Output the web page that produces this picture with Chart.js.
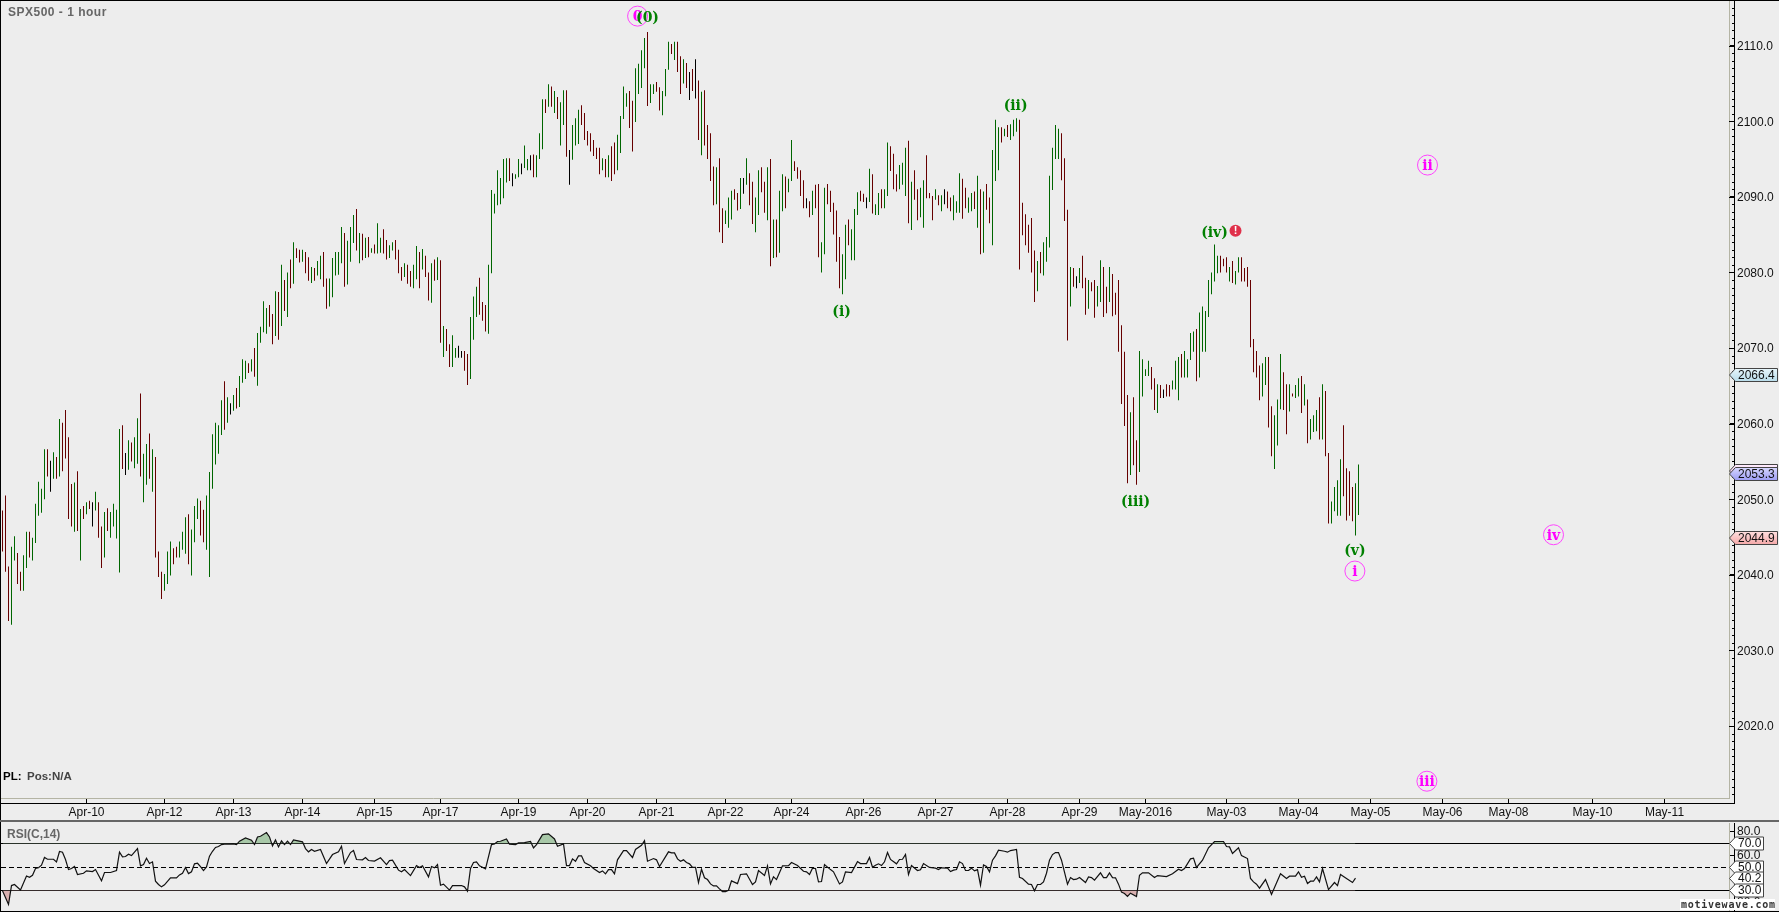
<!DOCTYPE html>
<html>
<head>
<meta charset="utf-8">
<title>SPX500 - 1 hour</title>
<script src="https://cdn.jsdelivr.net/npm/chart.js@4"></script>
<style>
  html, body { margin: 0; padding: 0; background: #ededed; overflow: hidden; }
  canvas { position: absolute; left: 0; display: block; }
  #priceChart { top: 0; }
  #rsiChart { top: 823px; }
</style>
</head>
<body>
<canvas id="priceChart" width="1779" height="823"></canvas>
<canvas id="rsiChart" width="1779" height="89"></canvas>
<script>
// hourly bars
const barHighs = [
  2048.5,2050.5,2041.1,2043.7,2045.1,2042.9,2040.4,2042.6,2045.7,2045.7,
  2044.9,2049.4,2052.3,2051.4,2056.6,2056.6,2055.1,2056.2,2055.6,2060.6,
  2060.1,2061.8,2058.2,2052.0,2052.2,2053.7,2048.7,2049.1,2049.6,2049.8,
  2049.6,2051.0,2049.6,2046.4,2048.3,2048.8,2048.3,2049.4,2048.6,2059.3,
  2059.8,2056.1,2057.8,2057.5,2058.2,2060.7,2064.0,2056.0,2057.3,2058.7,
  2056.6,2055.6,2043.1,2040.4,2040.1,2043.1,2044.4,2043.5,2043.7,2044.4,
  2045.7,2047.6,2048.0,2046.0,2049.1,2050.1,2049.8,2048.6,2050.5,2053.6,
  2058.6,2060.1,2059.8,2063.1,2065.6,2063.5,2062.7,2063.8,2064.7,2066.3,
  2068.5,2068.3,2068.0,2068.5,2070.0,2072.0,2072.8,2076.2,2075.3,2075.7,
  2074.5,2077.5,2077.4,2081.0,2079.0,2080.0,2081.7,2084.0,2083.2,2083.0,
  2083.0,2082.7,2082.0,2080.7,2080.6,2081.5,2082.2,2082.7,2079.2,2079.2,
  2081.9,2082.7,2082.7,2086.0,2085.2,2084.2,2086.0,2087.6,2088.4,2085.2,
  2085.1,2084.6,2084.7,2083.2,2083.7,2086.5,2084.6,2085.7,2084.3,2083.6,
  2084.0,2084.3,2083.0,2080.7,2081.2,2081.0,2080.2,2081.0,2083.5,2082.7,
  2083.1,2082.2,2080.0,2081.2,2081.7,2082.0,2081.6,2072.9,2072.5,2070.5,
  2071.7,2070.0,2070.3,2069.6,2069.6,2069.2,2074.1,2076.8,2078.1,2079.3,
  2076.1,2075.7,2081.0,2090.9,2090.4,2093.5,2092.5,2095.0,2095.1,2095.1,
  2093.1,2093.0,2095.0,2094.4,2096.8,2095.0,2095.5,2095.6,2095.5,2098.4,
  2102.9,2102.9,2104.9,2104.6,2104.0,2103.2,2102.5,2104.1,2104.1,2096.2,
  2099.5,2100.4,2101.5,2102.1,2101.1,2098.7,2098.4,2097.5,2096.5,2096.5,
  2095.1,2095.0,2095.5,2096.7,2097.2,2098.2,2100.7,2104.6,2103.7,2104.0,
  2102.7,2107.0,2107.6,2109.4,2111.0,2111.8,2104.9,2104.9,2105.2,2104.5,
  2104.0,2106.9,2110.5,2110.2,2110.5,2110.5,2108.6,2108.2,2107.7,2106.5,
  2106.9,2108.2,2105.4,2103.9,2104.1,2099.5,2098.4,2094.0,2093.9,2095.1,
  2088.5,2088.2,2089.9,2090.8,2091.0,2090.5,2092.5,2092.5,2095.1,2093.1,
  2092.0,2089.9,2093.5,2093.9,2092.0,2093.9,2095.0,2087.0,2087.0,2090.8,
  2093.0,2092.7,2092.4,2097.5,2094.7,2093.9,2093.5,2092.2,2089.8,2089.4,
  2090.8,2091.6,2091.7,2084.0,2091.2,2091.7,2090.8,2089.2,2088.2,2084.7,
  2082.4,2086.3,2087.0,2085.7,2088.4,2090.6,2090.8,2090.4,2089.9,2093.7,
  2093.0,2089.0,2090.5,2091.0,2091.0,2097.2,2096.7,2095.7,2093.0,2094.2,
  2094.5,2096.5,2097.4,2092.0,2093.5,2091.0,2091.2,2092.2,2095.5,2090.5,
  2090.1,2091.0,2090.2,2090.2,2091.0,2090.7,2089.9,2090.2,2089.4,2093.1,
  2092.4,2091.2,2089.9,2090.5,2090.7,2092.8,2091.0,2090.7,2091.7,2089.9,
  2096.2,2100.2,2099.2,2099.2,2099.0,2099.5,2099.6,2100.2,2100.4,2100.2,
  2089.2,2087.7,2086.3,2087.2,2082.9,2081.5,2082.7,2084.0,2084.7,2092.8,
  2096.5,2099.5,2099.0,2098.4,2095.1,2088.3,2080.7,2080.6,2079.5,2080.6,
  2082.2,2079.3,2079.0,2078.7,2079.0,2078.2,2081.6,2080.7,2078.1,2080.7,
  2079.8,2077.3,2079.0,2073.0,2069.5,2063.8,2061.5,2063.5,2057.8,2069.6,
  2068.5,2067.2,2068.3,2067.5,2066.0,2065.2,2065.1,2064.5,2065.2,2065.1,
  2065.7,2068.3,2068.8,2069.2,2069.6,2068.5,2072.0,2072.2,2072.5,2074.7,
  2075.5,2074.9,2079.0,2080.0,2083.7,2082.2,2082.2,2081.8,2082.0,2080.7,
  2081.5,2080.2,2082.0,2082.0,2080.6,2080.7,2079.0,2071.2,2069.6,2067.7,
  2068.0,2068.8,2068.8,2062.3,2061.1,2063.2,2069.2,2066.8,2065.2,2065.2,
  2064.0,2065.1,2066.0,2066.3,2065.2,2063.2,2060.6,2061.1,2061.8,2063.5,
  2065.2,2064.3,2056.1,2049.7,2051.6,2052.5,2055.3,2059.8,2054.1,2053.7,
  2051.6,2052.1,2054.6
];
const barLows = [
  2043.1,2040.4,2033.9,2033.4,2041.9,2038.8,2037.9,2037.9,2040.9,2042.3,
  2041.9,2044.2,2047.8,2048.2,2050.0,2053.0,2051.0,2052.7,2052.7,2053.0,
  2053.7,2055.4,2047.4,2046.4,2045.7,2045.8,2041.9,2047.4,2048.0,2048.7,
  2046.4,2048.5,2044.9,2040.9,2042.3,2045.8,2044.9,2046.4,2044.8,2040.3,
  2054.0,2053.2,2053.9,2055.0,2054.1,2054.7,2053.0,2049.6,2051.9,2052.7,
  2051.0,2042.3,2039.7,2036.8,2037.9,2038.8,2039.9,2041.4,2042.3,2042.3,
  2043.3,2042.8,2041.4,2039.9,2044.3,2047.4,2045.2,2044.3,2043.3,2039.7,
  2051.4,2054.6,2056.0,2058.5,2059.2,2060.1,2061.2,2061.7,2062.0,2062.2,
  2065.4,2065.9,2066.7,2066.9,2066.2,2065.0,2070.7,2072.1,2071.9,2072.8,
  2070.5,2071.6,2071.1,2072.9,2074.9,2074.1,2077.9,2078.5,2081.9,2081.3,
  2081.4,2079.9,2078.9,2078.6,2078.9,2079.6,2079.1,2078.1,2075.2,2075.5,
  2076.7,2079.6,2079.7,2081.2,2078.1,2078.4,2081.4,2083.9,2082.9,2081.2,
  2081.6,2081.9,2082.0,2082.6,2082.5,2082.5,2082.6,2082.5,2081.7,2081.9,
  2082.9,2081.7,2079.9,2078.9,2079.4,2078.5,2078.1,2077.9,2079.1,2077.9,
  2080.4,2079.4,2076.3,2076.0,2078.9,2079.0,2070.7,2068.8,2069.6,2067.5,
  2067.5,2068.7,2068.7,2068.7,2067.0,2065.1,2065.9,2071.1,2074.1,2074.4,
  2073.6,2072.2,2071.9,2079.9,2087.8,2088.9,2089.0,2089.8,2091.9,2092.1,
  2091.4,2092.4,2092.6,2093.0,2093.8,2093.5,2093.5,2092.6,2092.6,2095.0,
  2096.3,2101.1,2101.9,2101.9,2101.1,2100.3,2096.8,2099.5,2095.3,2091.6,
  2094.9,2096.8,2097.0,2099.5,2097.5,2096.8,2096.0,2095.4,2095.0,2093.0,
  2093.5,2092.6,2092.6,2092.1,2093.0,2093.5,2095.8,2100.3,2101.9,2099.1,
  2096.0,2099.9,2103.6,2104.4,2107.0,2102.0,2102.4,2103.6,2103.9,2101.4,
  2100.8,2103.3,2106.8,2108.9,2108.1,2106.5,2103.6,2105.0,2104.4,2102.8,
  2104.0,2103.0,2097.5,2095.5,2096.8,2095.0,2092.1,2088.9,2089.0,2085.3,
  2083.9,2086.4,2085.9,2087.0,2089.6,2088.2,2088.4,2090.4,2091.6,2088.9,
  2086.4,2085.3,2087.6,2090.6,2087.9,2086.9,2080.8,2081.9,2082.0,2082.6,
  2088.1,2088.5,2090.6,2092.1,2093.4,2092.4,2090.1,2088.5,2088.5,2087.3,
  2087.6,2088.5,2082.0,2080.0,2082.4,2089.0,2088.0,2085.0,2081.4,2077.9,
  2077.1,2079.1,2083.6,2081.6,2081.6,2087.6,2089.4,2089.3,2088.5,2089.3,
  2087.8,2087.6,2087.6,2088.5,2088.5,2090.1,2093.4,2091.0,2090.7,2091.0,
  2091.6,2090.1,2086.5,2085.6,2089.6,2086.9,2087.3,2085.9,2089.8,2089.8,
  2086.9,2089.6,2088.9,2088.1,2089.0,2088.5,2088.1,2086.9,2087.9,2087.9,
  2087.1,2088.5,2087.9,2088.1,2088.4,2085.9,2082.4,2082.6,2088.3,2086.5,
  2083.6,2092.1,2093.5,2097.2,2098.0,2097.9,2097.5,2098.0,2098.6,2080.4,
  2084.9,2083.6,2082.6,2080.0,2076.1,2077.5,2079.9,2079.6,2081.4,2083.3,
  2090.9,2095.0,2095.0,2092.2,2086.8,2071.0,2075.5,2078.1,2077.9,2078.6,
  2077.9,2074.4,2075.2,2077.5,2074.0,2075.5,2076.1,2074.1,2074.6,2076.1,
  2074.2,2074.4,2069.5,2062.6,2059.7,2052.1,2053.2,2054.5,2051.9,2053.6,
  2063.6,2066.3,2066.3,2064.5,2061.8,2061.4,2063.4,2063.4,2063.6,2063.6,
  2064.5,2064.5,2063.1,2066.1,2066.1,2066.1,2068.4,2069.5,2065.6,2066.1,
  2069.5,2069.5,2074.1,2077.1,2078.8,2079.9,2080.0,2080.8,2080.0,2078.8,
  2078.6,2078.4,2080.0,2078.8,2078.8,2078.1,2070.1,2066.8,2066.1,2063.1,
  2063.6,2065.1,2059.5,2055.7,2054.0,2057.1,2061.9,2061.8,2058.6,2061.6,
  2063.6,2063.4,2063.6,2061.4,2062.4,2057.4,2057.9,2058.9,2059.0,2057.9,
  2057.9,2055.7,2046.8,2046.8,2048.4,2047.8,2047.8,2050.4,2047.2,2047.8,
  2047.1,2045.2,2047.9
];
// r = down bar, g = up bar, k = unchanged
const barTones = (
  'rrrggrrggr' + 'gggggrkgrg' + 'rrrrgrgrgr' + 'kgrrgrgggg' + 'rkgrggrggr' +
  'grrrgggrrg' + 'ggrgggrrgg' + 'ggggrgkgrg' + 'ggrgrggggr' + 'rgrgrgrgrr' +
  'grrgrggrrg' + 'ggggrgggrg' + 'rgrgrggrrg' + 'grrrgrrggr' + 'grrgrgrgrr' +
  'ggkkrrgggr' + 'rrgggggggr' + 'kggkggkrgg' + 'grgrgrggrk' + 'gggrrrrrrr' +
  'grgrrggggr' + 'rggggrggrr' + 'gggrgrrgrk' + 'rkrgrrrrgr' + 'rgggrrgkgr' +
  'rggrrgrgrg' + 'grggrrrrkr' + 'grrggrrrrr' + 'ggrgggrrkg' + 'rggrggrrrg' +
  'ggrgrrggrr' + 'rgrgkrrggg' + 'rrggrgrgrr' + 'gggrgrgggr' + 'rrrrrgrggg' +
  'gggrrrgrkg' + 'rrgrrggrrg' + 'rrrrrrgrrg' + 'gggrrgrkrr' + 'gggrggggrg' +
  'ggggggrrrg' + 'rggrrrrrrr' + 'ggrrgggrrg' + 'rggrgrgggr' + 'grrggggrrr' +
  'rgg'
).split('');

// date ticks, position counted in bars
const xTickBars = [28,54,77,100,124,146,172,195,218,241,263,287,311,335,359,381,408,432,456,480,502,530,554];
const xTickLabels = ['Apr-10','Apr-12','Apr-13','Apr-14','Apr-15','Apr-17','Apr-19','Apr-20','Apr-21','Apr-22','Apr-24','Apr-26',
  'Apr-27','Apr-28','Apr-29','May-2016','May-03','May-04','May-05','May-06','May-08','May-10','May-11'];
const priceTicks = [2020,2030,2040,2050,2060,2070,2080,2090,2100,2110];
const priceTags = [2066.4, 2053.3, 2044.9];

// wave labels
const waveGreenText = ['(0)','(i)','(ii)','(iii)','(iv)','(v)'];
const waveGreenBars = [215,279.7,337.7,377.7,404,450.8];
const waveGreenPrices = [2113.8,2074.9,2102.2,2049.8,2085.4,2043.3];
const wavePinkText = ['0','i','ii','iii','iv'];
const wavePinkBars = [211.7,450.8,475,474.8,517];
const wavePinkPrices = [2113.9,2040.5,2094.2,2012.7,2045.3];
const alertBar = [411];
const alertPrice = [2085.5];

// RSI line, vertices only
const rsiBars = [
  0,2,3,4,6,8,9,10,11,12,13,14,15,17,18,19,20,21,22,23,24,25,27,28,30,31,33,34,36,38,39,40,41,42,43,45,46,47,48,49,50,51,52,53,54,56,58,59,60,61,
  62,63,64,65,66,67,68,69,70,71,72,73,74,77,78,79,81,83,84,85,86,88,89,90,91,92,93,94,95,96,97,100,101,102,103,104,106,108,110,112,113,114,116,117,118,120,121,122,124,126,
  128,129,130,132,133,134,136,138,139,140,142,143,144,145,146,147,149,150,153,154,155,156,157,158,159,161,163,164,165,166,168,169,171,172,174,176,177,178,180,182,184,185,187,188,189,190,191,192,193,194,
  196,197,199,200,201,202,203,204,205,207,208,210,211,213,214,215,217,218,219,222,223,224,225,226,227,228,229,230,231,232,233,234,235,236,237,238,239,240,241,242,243,245,246,248,250,251,252,254,255,256,
  257,258,260,262,263,265,267,268,269,270,271,272,273,274,276,277,279,280,281,283,285,286,288,289,290,291,292,293,294,295,296,298,299,300,301,302,303,305,306,307,309,311,312,313,315,316,317,318,
  319,320,321,322,323,324,325,326,327,328,329,330,331,332,334,335,336,338,339,340,342,343,344,345,346,347,348,349,350,351,352,353,355,356,357,358,359,361,362,363,364,366,367,368,369,370,371,372,373,374,375,376,378,
  379,380,382,384,385,388,390,392,393,394,396,397,398,400,402,404,407,408,409,410,412,413,415,416,417,418,419,421,423,426,428,429,431,432,433,434,435,436,437,438,439,440,442,444,445,446,448,450,451
];
const rsiValues = [
  29.7,18.1,34.2,35.1,30.5,42.4,41.3,43.0,48.7,49.3,51.5,58.1,56.6,56.6,54.4,63.2,62.6,56.4,47.8,48.7,50.4,43.6,44.7,46.7,46.1,47.8,38.2,45.3,45.3,47.0,62.6,58.6,58.9,60.9,59.7,65.7,51.0,52.1,57.5,53.0,54.4,37.9,35.1,33.1,34.8,40.8,40.8,43.3,44.7,49.6,
  44.4,45.9,52.7,53.2,50.4,47.0,50.1,59.2,63.4,66.6,67.4,69.1,69.4,69.7,69.1,72.0,74.8,72.8,69.1,75.6,76.2,79.3,75.6,68.0,73.1,67.1,72.2,69.1,72.0,69.1,73.1,71.4,65.7,62.9,64.9,63.4,64.9,53.0,60.6,62.9,67.7,53.0,62.3,64.0,56.4,56.1,58.1,55.5,55.0,57.8,
  52.1,55.5,55.8,47.3,45.9,47.8,42.7,51.2,49.6,51.0,41.6,50.4,49.3,52.1,34.5,35.4,30.3,34.2,34.2,33.1,29.4,48.7,53.8,54.4,51.0,48.4,69.1,69.7,71.7,71.9,73.9,69.4,69.1,70.5,70.8,71.7,66.3,69.1,77.6,78.2,73.9,67.7,69.7,51.2,51.2,56.9,54.9,59.5,59.5,53.8,
  51.0,48.7,45.3,46.7,44.2,47.8,47.8,44.2,56.1,64.0,64.0,58.1,64.9,68.5,72.5,54.9,57.2,56.1,50.4,62.9,62.0,62.0,56.9,54.9,56.1,53.8,52.7,49.6,49.6,36.8,48.1,40.8,39.3,35.6,33.9,33.9,31.4,29.1,29.1,30.2,38.2,35.9,43.6,44.2,35.1,37.3,47.0,42.7,51.0,35.6,
  41.6,39.3,51.0,51.2,53.8,51.2,46.4,45.9,43.6,49.0,48.7,37.3,37.6,52.1,47.8,45.9,35.6,37.3,45.9,45.3,54.6,52.9,52.9,58.1,49.8,51.5,52.7,51.2,54.4,62.3,56.4,52.7,56.4,56.6,60.6,43.6,51.2,47.0,47.6,52.9,49.6,49.0,47.8,49.3,49.0,46.1,47.3,47.8,
  54.4,52.9,47.0,47.0,49.0,46.7,47.8,34.5,51.8,50.4,45.9,55.8,59.5,64.3,63.4,62.6,64.0,64.9,41.3,40.2,35.4,35.1,29.7,35.1,35.1,37.3,44.7,55.8,60.6,62.3,62.3,55.8,35.4,41.0,39.3,39.6,41.0,36.8,41.6,41.0,38.8,45.0,41.0,41.0,45.0,41.0,40.8,35.4,28.6,27.4,24.9,27.7,24.9,
  43.0,45.0,45.0,41.0,42.7,41.9,44.2,48.1,47.0,48.7,56.9,57.5,49.6,55.8,66.3,71.7,71.7,67.4,67.1,61.5,66.3,59.7,57.2,40.2,37.3,35.4,32.0,39.3,26.6,44.2,40.2,42.2,42.2,45.9,41.3,42.2,35.9,37.9,37.9,41.6,37.3,48.7,30.8,36.8,34.2,43.6,40.2,36.8,40.5
];
const rsiTicks = [80,60,40,20];
const rsiLevels = [70,50,30];
const rsiTags = ['70.0','50.0','40.2','30.0'];
const rsiTagValues = [70,50,40.2,30];

const toneColors = { r: '#660000', g: '#006600', k: '#000000' };
const axisFont = { family: '"Liberation Sans", Arial, sans-serif', size: 12 };
const tan = '#b4b4a4';
const sans = '"Liberation Sans", Arial, sans-serif';

// the axis sizes are fixed so the plot areas land where the picture has them
function pinAxis(scale, side, size) {
  scale[side] = size;
  scale.paddingLeft = scale.paddingRight = scale.paddingTop = scale.paddingBottom = 0;
}

function tag(ctx, left, right, y, text, top, bottom) {
  const h = 6.5;
  const grad = ctx.createLinearGradient(0, y - h, 0, y + h);
  grad.addColorStop(0, top);
  grad.addColorStop(1, bottom);
  ctx.beginPath();
  ctx.moveTo(left + 0.5, y);
  ctx.lineTo(left + 6.5, y - h);
  ctx.lineTo(right + 0.5, y - h);
  ctx.lineTo(right + 0.5, y + h);
  ctx.lineTo(left + 6.5, y + h);
  ctx.closePath();
  ctx.fillStyle = grad;
  ctx.fill();
  ctx.strokeStyle = '#444444';
  ctx.lineWidth = 1;
  ctx.stroke();
  if (text) {
    ctx.fillStyle = '#111111';
    ctx.font = '12px ' + sans;
    ctx.textAlign = 'left';
    ctx.textBaseline = 'middle';
    ctx.fillText(text, left + 9, y + 0.5);
  }
}

function hline(ctx, x0, x1, y, color, width) {
  ctx.fillStyle = color;
  ctx.fillRect(x0, y, x1 - x0, width || 1);
}

const priceDecor = {
  id: 'priceDecor',
  afterDraw(chart) {
    const ctx = chart.ctx;
    const xs = chart.scales.x, ys = chart.scales.y;
    ctx.save();
    // frame
    hline(ctx, 0, 1779, 0, '#000000');
    ctx.fillStyle = '#000000';
    ctx.fillRect(0, 0, 1, 823);
    ctx.fillRect(1734, 0, 1, 804);
    hline(ctx, 0, 1735, 803, '#000000');
    hline(ctx, 0, 1779, 820, '#666666', 2);
    // one-point ticks on the price axis
    for (let v = Math.ceil(ys.min); v <= ys.max; v++) {
      const y = Math.round(ys.getPixelForValue(v));
      ctx.fillStyle = '#000000';
      ctx.fillRect(v % 10 === 0 ? 1729 : 1732, y, v % 10 === 0 ? 5 : 3, 1);
    }
    // wave labels
    ctx.textAlign = 'center';
    ctx.textBaseline = 'middle';
    ctx.font = 'bold 14px "DejaVu Serif", serif';
    ctx.fillStyle = '#ff00ff';
    wavePinkText.forEach((t, i) => {
      ctx.fillText(t, xs.getPixelForValue(wavePinkBars[i]), ys.getPixelForValue(wavePinkPrices[i]) + 1.5);
    });
    ctx.fillStyle = '#008000';
    waveGreenText.forEach((t, i) => {
      ctx.fillText(t, xs.getPixelForValue(waveGreenBars[i]), ys.getPixelForValue(waveGreenPrices[i]) + 1.5);
    });
    ctx.font = 'bold 11px ' + sans;
    ctx.fillStyle = '#ffffff';
    ctx.fillText('!', xs.getPixelForValue(alertBar[0]), ys.getPixelForValue(alertPrice[0]));
    // captions
    ctx.textAlign = 'left';
    ctx.font = 'bold 12px ' + sans;
    ctx.letterSpacing = '0.5px';
    ctx.fillStyle = '#666666';
    ctx.fillText('SPX500 - 1 hour', 8, 13);
    ctx.letterSpacing = '0px';
    ctx.font = 'bold 11.5px ' + sans;
    ctx.fillStyle = '#000000';
    ctx.fillText('PL:', 3, 777);
    ctx.fillStyle = '#444444';
    ctx.fillText('Pos:N/A', 27, 777);
    // last-value tags
    const py = v => Math.round(ys.getPixelForValue(v));
    tag(ctx, 1729, 1777, py(priceTags[1]) - 3, '', '#fff0ff', '#f0b0e8');
    tag(ctx, 1729, 1777, py(priceTags[0]), priceTags[0].toFixed(1), '#e8f6fb', '#b8dcea');
    tag(ctx, 1729, 1777, py(priceTags[1]), priceTags[1].toFixed(1), '#d8d8ff', '#9c9cf4');
    tag(ctx, 1729, 1777, py(priceTags[2]), priceTags[2].toFixed(1), '#ffe0e0', '#f4a8a8');
    ctx.restore();
  }
};

new Chart(document.getElementById('priceChart'), {
  type: 'bar',
  data: {
    datasets: [
      {
        type: 'scatter',
        data: wavePinkBars.map((b, i) => ({ x: b, y: wavePinkPrices[i] })),
        pointRadius: 10,
        pointBorderWidth: 1,
        pointBorderColor: '#ff44ff',
        pointBackgroundColor: 'transparent'
      },
      {
        type: 'scatter',
        data: alertBar.map((b, i) => ({ x: b, y: alertPrice[i] })),
        pointRadius: 6,
        pointBorderWidth: 0,
        pointBackgroundColor: '#e0304a'
      },
      {
        data: barHighs.map((h, i) => ({ x: i, y: [barLows[i], h] })),
        backgroundColor: barTones.map(t => toneColors[t]),
        barThickness: 1,
        borderWidth: 0,
        inflateAmount: 0
      }
    ]
  },
  plugins: [priceDecor],
  options: {
    responsive: false,
    animation: false,
    devicePixelRatio: 1,
    layout: { autoPadding: false, padding: { top: 1, left: 1, right: 0, bottom: 0 } },
    plugins: { legend: { display: false }, tooltip: { enabled: false }, title: { display: false } },
    scales: {
      x: {
        type: 'linear',
        offset: false,
        min: -0.5,
        max: 575.5,
        afterBuildTicks(scale) { scale.ticks = xTickBars.map(v => ({ value: v })); },
        afterFit(scale) { pinAxis(scale, 'height', 25); },
        grid: { drawOnChartArea: false, tickLength: 5, tickColor: '#000000', offset: false },
        border: { color: tan },
        ticks: {
          autoSkip: false, maxRotation: 0, padding: 2, color: '#111111', font: axisFont,
          callback: v => xTickLabels[xTickBars.indexOf(v)]
        }
      },
      y: {
        position: 'right',
        min: 2010.48,
        max: 2115.9,
        afterBuildTicks(scale) { scale.ticks = priceTicks.map(v => ({ value: v })); },
        afterFit(scale) { pinAxis(scale, 'width', 50); },
        grid: { drawOnChartArea: false, tickLength: 5, tickColor: '#000000' },
        border: { color: tan },
        ticks: { autoSkip: false, padding: 3, labelOffset: 1, color: '#111111', font: axisFont, callback: v => v.toFixed(1) }
      }
    }
  }
});

const rsiDecor = {
  id: 'rsiDecor',
  beforeDatasetsDraw(chart) {
    const ctx = chart.ctx, ys = chart.scales.y;
    ctx.save();
    ctx.strokeStyle = '#000000';
    ctx.lineWidth = 1;
    rsiLevels.forEach(v => {
      const y = Math.floor(ys.getPixelForValue(v)) + 0.5;
      ctx.setLineDash(v === 50 ? [5, 3] : []);
      ctx.beginPath();
      ctx.moveTo(1, y);
      ctx.lineTo(1729, y);
      ctx.stroke();
    });
    ctx.restore();
  },
  afterDraw(chart) {
    const ctx = chart.ctx, ys = chart.scales.y;
    ctx.save();
    ctx.fillStyle = '#000000';
    ctx.fillRect(0, 0, 1, 89);
    ctx.fillRect(1734, 0, 1, 88);
    hline(ctx, 0, 1779, 88, '#000000');
    ctx.textBaseline = 'middle';
    ctx.textAlign = 'left';
    ctx.font = 'bold 12px ' + sans;
    ctx.fillStyle = '#666666';
    ctx.fillText('RSI(C,14)', 7, 12);
    rsiTags.forEach((t, i) => {
      tag(ctx, 1729, 1763, Math.floor(ys.getPixelForValue(rsiTagValues[i])) + 0.5, t, '#ffffff', '#ffffff');
    });
    // watermark
    ctx.fillStyle = '#ffffff';
    ctx.fillRect(1680, 76, 95, 11);
    ctx.fillStyle = '#333333';
    ctx.font = 'bold 10px "DejaVu Sans Mono", monospace';
    ctx.letterSpacing = '0.75px';
    ctx.fillText('motivewave.com', 1681, 82);
    ctx.letterSpacing = '0px';
    ctx.restore();
  }
};

const rsiPoints = rsiBars.map((b, i) => ({ x: b, y: rsiValues[i] }));

new Chart(document.getElementById('rsiChart'), {
  type: 'line',
  data: {
    datasets: [
      {
        data: rsiPoints,
        borderColor: '#111111',
        borderWidth: 1.2,
        pointRadius: 0,
        tension: 0,
        fill: { value: 70, above: '#a8c8a8', below: 'transparent' }
      },
      {
        data: rsiPoints,
        borderWidth: 0,
        pointRadius: 0,
        tension: 0,
        fill: { value: 30, above: 'transparent', below: '#d8b0b0' }
      }
    ]
  },
  plugins: [rsiDecor],
  options: {
    responsive: false,
    animation: false,
    devicePixelRatio: 1,
    layout: { autoPadding: false, padding: { top: 0, left: 1, right: 0, bottom: 1 } },
    plugins: { legend: { display: false }, tooltip: { enabled: false }, title: { display: false } },
    scales: {
      x: { type: 'linear', min: -0.5, max: 575.5, display: false },
      y: {
        position: 'right',
        min: 12.55,
        max: 87.45,
        afterBuildTicks(scale) { scale.ticks = rsiTicks.map(v => ({ value: v })); },
        afterFit(scale) { pinAxis(scale, 'width', 50); },
        grid: { drawOnChartArea: false, tickLength: 5, tickColor: '#000000' },
        border: { color: tan },
        ticks: { autoSkip: false, padding: 3, color: '#111111', font: axisFont, callback: v => v.toFixed(1) }
      }
    }
  }
});
</script>
</body>
</html>
